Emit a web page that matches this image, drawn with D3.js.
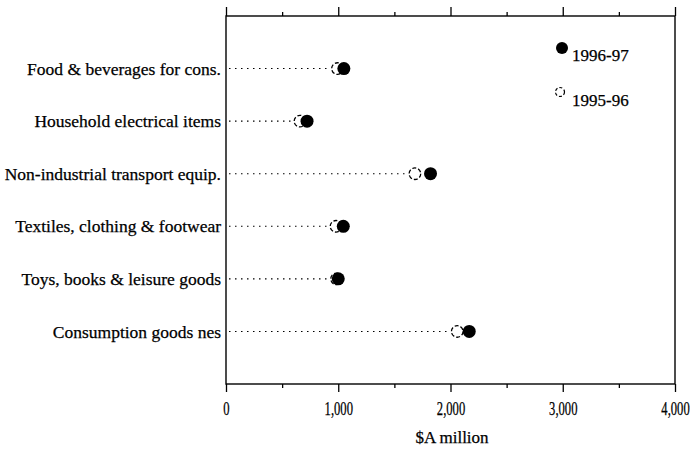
<!DOCTYPE html>
<html><head><meta charset="utf-8">
<script src="https://cdn.jsdelivr.net/npm/d3@7"></script>
<style>body{margin:0;background:#fff}svg{display:block}</style>
</head><body>
<script>
const categories = ["Food & beverages for cons.","Household electrical items","Non-industrial transport equip.","Textiles, clothing & footwear","Toys, books & leisure goods","Consumption goods nes"];
const values9697 = [1050, 722, 1822, 1045, 1000, 2167];
const values9596 = [993, 659, 1683, 980, 985, 2060];
const xTicks = [0, 1000, 2000, 3000, 4000];
const seriesNames = ["1996-97", "1995-96"];

const FONT = "'Liberation Serif', 'Times New Roman', Times, serif";
const W = 692, H = 450;
const L = 226, R = 675, T = 16, B = 384;
const svg = d3.select("body").append("svg").attr("width", W).attr("height", H)
  .style("font-family", FONT);

const x = d3.scaleLinear().domain([0, 4000]).range([L, R]);
const y = d3.scalePoint().domain(categories).range([T, B]).padding(1);

function styleText(sel, size) {
  sel.style("font-family", FONT).style("font-size", size + "px").attr("fill", "#000")
    .attr("stroke", "#000").attr("stroke-width", 0.25);
}
function condense(sel, f) {
  sel.each(function () {
    const w = this.getComputedTextLength();
    d3.select(this).attr("textLength", w * f).attr("lengthAdjust", "spacingAndGlyphs");
  });
}

// frame
svg.append("rect").attr("x", L).attr("y", T).attr("width", R - L).attr("height", B - T)
  .attr("fill", "none").attr("stroke", "#000").attr("stroke-width", 1.4);

const majors = xTicks;
const minors = d3.range(500, 4000, 1000);
// top ticks (outward)
svg.append("g").attr("transform", `translate(0,${T})`)
  .call(d3.axisTop(x).tickValues(majors).tickSize(9).tickFormat(""))
  .call(g => { g.select(".domain").remove(); g.selectAll("line").attr("stroke-width", 1.3); });
svg.append("g").attr("transform", `translate(0,${T})`)
  .call(d3.axisTop(x).tickValues(minors).tickSize(4).tickFormat(""))
  .call(g => { g.select(".domain").remove(); g.selectAll("line").attr("stroke-width", 1.3); });
// bottom ticks (outward)
svg.append("g").attr("transform", `translate(0,${B})`)
  .call(d3.axisBottom(x).tickValues(minors).tickSize(4).tickFormat(""))
  .call(g => { g.select(".domain").remove(); g.selectAll("line").attr("stroke-width", 1.3); });
svg.append("g").attr("transform", `translate(0,${B})`)
  .call(d3.axisBottom(x).tickValues(majors).tickSize(8).tickPadding(10).tickFormat(d3.format(",")))
  .call(g => {
    g.attr("font-family", null);
    g.select(".domain").remove();
    g.selectAll("line").attr("stroke-width", 1.3);
    g.selectAll("text").call(styleText, 18).call(condense, 0.7);
  });

svg.append("text").attr("x", 452).attr("y", 443).attr("text-anchor", "middle").call(styleText, 17).text("$A million");

// category labels
svg.append("g").attr("transform", `translate(${L},0)`)
  .call(d3.axisLeft(y).tickSize(0).tickPadding(5))
  .call(g => { g.attr("font-family", null); g.select(".domain").remove(); g.selectAll("text").call(styleText, 17.5); });

// dotted guide lines
const rows = categories.map((c, i) => ({c, a: values9697[i], b: values9596[i]}));
svg.append("g").selectAll("line").data(rows).join("line")
  .attr("x1", L + 3).attr("x2", d => x(Math.min(d.a, d.b)) - 7)
  .attr("y1", d => y(d.c)).attr("y2", d => y(d.c))
  .attr("stroke", "#000").attr("stroke-width", 1.1).attr("stroke-dasharray", "1.5,4.5");

// 1995-96 open
svg.append("g").selectAll("circle").data(rows).join("circle")
  .attr("cx", d => x(d.b)).attr("cy", d => y(d.c)).attr("r", 5.8)
  .attr("fill", "#fff").attr("stroke", "#000").attr("stroke-width", 1.3).attr("stroke-dasharray", "4,2");
// 1996-97 filled
svg.append("g").selectAll("circle").data(rows).join("circle")
  .attr("cx", d => x(d.a)).attr("cy", d => y(d.c)).attr("r", 6.5)
  .attr("fill", "#000");

// legend
const lg = svg.append("g");
lg.append("circle").attr("cx", 562).attr("cy", 48).attr("r", 6).attr("fill", "#000");
lg.append("text").attr("x", 572).attr("y", 61).call(styleText, 17).text(seriesNames[0]);
lg.append("circle").attr("cx", 560).attr("cy", 92).attr("r", 4.5).attr("fill", "#fff").attr("stroke", "#000").attr("stroke-width", 1.2).attr("stroke-dasharray", "3,2");
lg.append("text").attr("x", 572).attr("y", 106).call(styleText, 17).text(seriesNames[1]);
</script>
</body></html>
